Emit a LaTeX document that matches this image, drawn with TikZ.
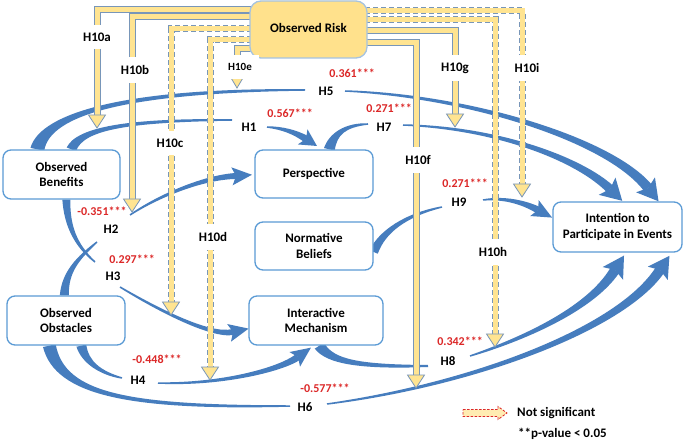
\documentclass[tikz,border=0pt]{standalone}
\usepackage{fontspec}
\setmainfont{Carlito}
\usetikzlibrary{calc}
\pgfdeclarelayer{bg}
\pgfsetlayers{bg,main}
\definecolor{arrowblue}{RGB}{70,125,190}
\definecolor{boxblue}{RGB}{91,155,213}
\definecolor{bandyellow}{RGB}{255,228,145}
\definecolor{bandedge}{RGB}{120,150,185}
\definecolor{numred}{RGB}{220,40,40}
\definecolor{riskfill}{RGB}{255,225,140}
\definecolor{riskedge}{RGB}{165,195,225}
% tapered blue segment: P0 P1 P2 P3 w0 w3
\newcommand\bseg[6]{%
  \pgfmathsetlengthmacro\tpA{#5/2}%
  \pgfmathsetlengthmacro\tpB{(2*#5+#6)/6}%
  \pgfmathsetlengthmacro\tpC{(#5+2*#6)/6}%
  \pgfmathsetlengthmacro\tpD{#6/2}%
  \fill[fill=arrowblue] ($(#1)!\tpA!90:(#2)$) .. controls ($(#2)!\tpB!-90:(#1)$) and ($(#3)!\tpC!90:(#4)$) .. ($(#4)!\tpD!-90:(#3)$)
    -- ($(#4)!\tpD!90:(#3)$) .. controls ($(#3)!\tpC!-90:(#4)$) and ($(#2)!\tpB!90:(#1)$) .. ($(#1)!\tpA!-90:(#2)$) -- cycle;%
}
% blue arrow head: P2 P3 halfwidth length
\newcommand\bhead[4]{%
  \coordinate (hq) at ($(#2)!4pt!(#1)$);%
  \fill[fill=arrowblue] ($(#2)!-#4pt!(#1)$) -- ($(hq)!#3pt!90:(#1)$) -- (#2) -- ($(hq)!#3pt!-90:(#1)$) -- cycle;%
}
% yellow band: start, body end, tip, options, head half width
\newcommand\ybar[5]{%
  \draw[yout,#4] (#1) -| (#2);%
  \draw[yin] (#1) -| (#2);%
  \filldraw[fill=bandyellow,draw=bandedge,line width=0.8pt] ($(#2)+(-#5,-1)$) -- ($(#2)+(#5,-1)$) -- (#3) -- cycle;%
}
\begin{document}
\begin{tikzpicture}[x=1pt,y=-1pt,
  box/.style={draw=boxblue,line width=1.3pt,rounded corners=8pt,fill=white,align=center,
    font=\bfseries\fontsize{13}{15.5}\selectfont,inner sep=2pt},
  hl/.style={fill=white,font=\bfseries\fontsize{13}{15}\selectfont,inner sep=2pt},
  yl/.style={fill=white,font=\bfseries\fontsize{13}{15}\selectfont,inner xsep=7pt,inner ysep=8pt},
  rl/.style={fill=white,text=numred,font=\bfseries\fontsize{12}{14}\selectfont,inner sep=1pt},
  yout/.style={draw=bandedge,line width=7pt},
  yin/.style={draw=bandyellow,line width=5pt},
  ydash/.style={dash pattern=on 5pt off 3pt},
]
\useasboundingbox (0,0) rectangle (685,443);

% boxes
\node[box,minimum width=117pt,minimum height=57pt,fill=riskfill,draw=riskedge,rounded corners=11pt] (risk) at (308.5,29.5) {\raisebox{4pt}{Observed Risk}};
\node[box,minimum width=117pt,minimum height=49pt] (benefits) at (61.5,174.5) {Observed\\Benefits};
\node[box,minimum width=118pt,minimum height=48pt] (persp) at (314,174) {Perspective};
\node[box,minimum width=118pt,minimum height=48pt] (norm) at (314,246) {Normative\\Beliefs};
\node[box,minimum width=118pt,minimum height=49pt] (obst) at (66,320.5) {Observed\\Obstacles};
\node[box,minimum width=134pt,minimum height=49pt] (inter) at (316,320.5) {Interactive\\Mechanism};
\node[box,minimum width=129pt,minimum height=50pt] (intent) at (617.5,227) {Intention to\\Participate in Events};

% source points on boxes
\coordinate (h5s) at ($(benefits.north west)+(35,0)$);
\coordinate (h1s) at ($(benefits.north west)+(69,0)$);
\coordinate (h3s) at ($(benefits.south west)+(64,0)$);
\coordinate (h2s) at ($(obst.north west)+(58,0)$);
\coordinate (h4s) at ($(obst.south west)+(75,0)$);
\coordinate (h6s) at ($(obst.south west)+(43,0)$);
\coordinate (h7s) at ($(persp.north west)+(75,0)$);
\coordinate (h8s) at ($(inter.south west)+(71,0)$);
\coordinate (h9s) at ($(norm.east)+(0,6)$);

% band coordinates
\coordinate (a0) at (260,10);   \coordinate (a1) at (97,116);  \coordinate (a2) at (97,128);
\coordinate (b0) at (260,17);   \coordinate (b1) at (132,200); \coordinate (b2) at (132,212);
\coordinate (c0) at (260,29);   \coordinate (c1) at (171,303); \coordinate (c2) at (171,315);
\coordinate (d0) at (260,40);   \coordinate (d1) at (210,368); \coordinate (d2) at (210,380);
\coordinate (e0) at (260,49);   \coordinate (e1) at (237,78);  \coordinate (e2) at (237,88);
\coordinate (i0) at (357,11);   \coordinate (i1) at (522,185); \coordinate (i2) at (522,197);
\coordinate (hh0) at (357,20);  \coordinate (hh1) at (495,335); \coordinate (hh2) at (495,347);
\coordinate (g0) at (357,31);   \coordinate (g1) at (455,115); \coordinate (g2) at (455,127);
\coordinate (f0) at (357,42.5); \coordinate (f1) at (416,376); \coordinate (f2) at (416,388);

\begin{pgfonlayer}{bg}
\fill[white] (0,0) rectangle (685,443);
% H5
\bseg{h5s}{45,113}{130,90}{305,90}{14}{1.5}
\bseg{345,91}{470,96}{610,140}{648,188}{1.5}{10}\bhead{610,140}{648,188}{12}{17}
% H1
\bseg{h1s}{80,128}{130,120}{232,120}{10}{1.5}
\bseg{267,127}{282,128}{295,132}{306,139}{1.5}{7}\bhead{295,132}{306,139}{9}{13}
% H7
\bseg{h7s}{333,134}{345,125}{368,124}{11}{1.5}
\bseg{403,125}{500,128}{580,160}{610,189}{1.5}{9}\bhead{580,160}{610,189}{12}{17}
% H2
\bseg{h2s}{65,272}{78,258}{97,242}{9}{1.5}
\bseg{130,215}{160,195}{205,177}{236,176}{1.5}{6}\bhead{210,178}{236,176}{9}{16}
% H3
\bseg{h3s}{67,225}{75,245}{95,262}{8}{1.5}
\bseg{120,287}{155,308}{210,337}{233,332}{1.5}{6}\bhead{210,337}{233,332}{9}{16}
% H4
\bseg{h4s}{85,362}{100,373}{122,378}{10}{1.5}
\bseg{158,383}{220,385}{280,370}{298,357}{1.5}{7}\bhead{280,370}{298,357}{9}{16}
% H6
\bseg{h6s}{60,395}{130,408}{290,406}{13}{1.5}
\bseg{327,404}{470,385}{620,330}{660,270}{1.5}{10}\bhead{620,330}{660,270}{12}{17}
% H8
\bseg{h8s}{330,362}{360,367}{428,366}{11}{2}
\bseg{470,356}{520,340}{590,310}{615,270}{1.5}{10}\bhead{590,310}{615,270}{12}{17}
% H9
\bseg{h9s}{382,232}{405,215}{442,207}{9}{1.5}
\bseg{483,200}{505,197}{525,203}{538,210}{1.5}{7}\bhead{525,203}{538,210}{9}{16}

% yellow bands
\ybar{a0}{a1}{a2}{}{8.5}
\ybar{b0}{b1}{b2}{}{8.5}
\ybar{c0}{c1}{c2}{ydash}{8.5}
\ybar{d0}{d1}{d2}{ydash}{8.5}
\ybar{e0}{e1}{e2}{}{6.5}
\ybar{i0}{i1}{i2}{ydash}{8.5}
\ybar{hh0}{hh1}{hh2}{ydash}{8.5}
\ybar{g0}{g1}{g2}{}{8.5}
\ybar{f0}{f1}{f2}{}{8.5}
\end{pgfonlayer}

% band labels
\node[yl] (la) at (97,37) {H10a};
\node[yl] (lb) at (135,70) {H10b};
\node[yl] (lc) at (170,143) {H10c};
\node[yl] (ld) at (213,237) {H10d};
\node[yl,font=\bfseries\fontsize{11}{13}\selectfont] (le) at (240,67) {H10e};
\node[yl] (lf) at (418,160) {H10f};
\node[yl] (lg) at (455,68) {H10g};
\node[yl] (lh) at (493,252) {H10h};
\node[yl] (li) at (527,68) {H10i};

% hypothesis labels
\node[rl] (r5) at (352,73) {0.361***};
\node[hl] (l5) at (326,91) {H5};
\node[rl] (r1) at (290,113) {0.567***};
\node[hl] (l1) at (249,127) {H1};
\node[rl] (r7) at (389,108) {0.271***};
\node[hl] (l7) at (384,127) {H7};
\node[rl] (r2) at (102,211) {-0.351***};
\node[hl] (l2) at (111,229) {H2};
\node[rl] (r3) at (132,259) {0.297***};
\node[hl] (l3) at (113,276) {H3};
\node[rl] (r4) at (157,359) {-0.448***};
\node[hl] (l4) at (138,380) {H4};
\node[rl] (r6) at (325,388) {-0.577***};
\node[hl] (l6) at (305,407) {H6};
\node[rl] (r8) at (460,341) {0.342***};
\node[hl] (l8) at (448,361) {H8};
\node[rl] (r9) at (465,183) {0.271***};
\node[hl] (l9) at (459,202) {H9};

% legend
\filldraw[fill=bandyellow!70,draw=numred,line width=0.8pt,dash pattern=on 2.5pt off 1.5pt]
  (463,409.5) -- (498,409.5) -- (498,406.5) -- (507,413) -- (498,419.5) -- (498,416.5) -- (463,416.5) -- cycle;
\node[hl,anchor=west,inner sep=0pt] (leg1) at (517,413) {Not significant};
\node[hl,anchor=west,inner sep=0pt] (leg2) at (518,434) {**p-value < 0.05};
\end{tikzpicture}
\end{document}
